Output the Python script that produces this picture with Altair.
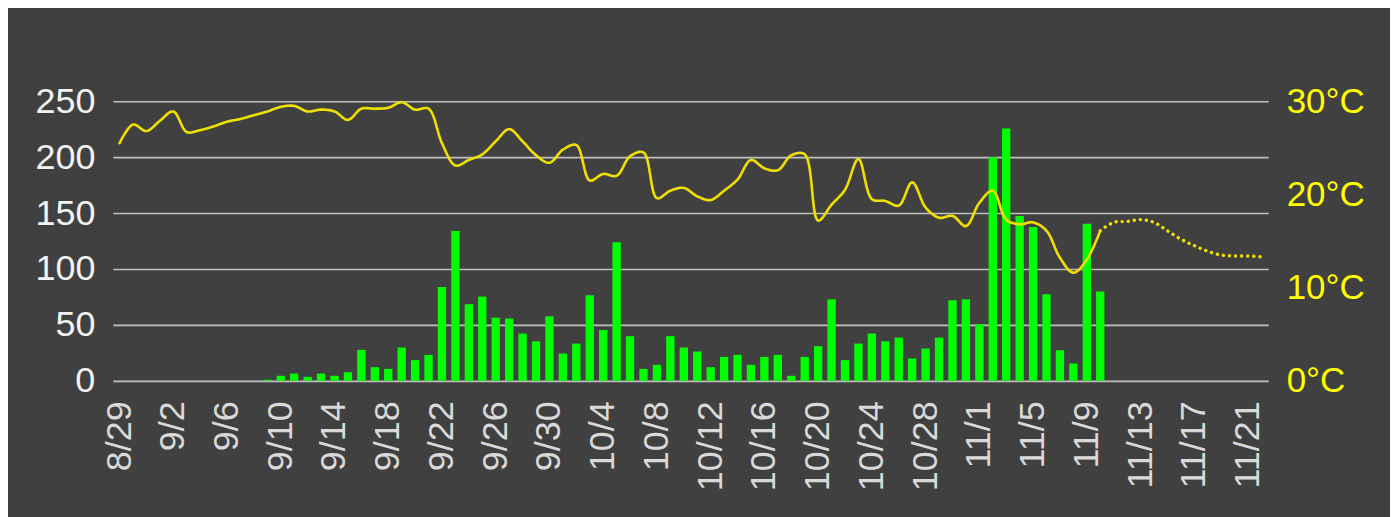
import altair as alt
import pandas as pd

# categories: every day from 8/29 to 11/22
dates = [f"{d.month}/{d.day}" for d in pd.date_range("2023-08-29", "2023-11-22")]
tick_labels = dates[::4]

# daily bars (9/9 .. 11/10)
rain_start = dates.index("9/9")
rain = [1, 4.5, 6.5, 3.6, 6.5, 4.5, 7.7, 27.7, 12.2, 10.7, 29.8, 18.5, 23.2, 84, 134,
        68.5, 75.3, 56.5, 55.7, 42.3, 35.4, 57.7,
        24.4, 33.3, 76.5, 45.5, 124, 39.9, 10.7, 14.3, 39.9, 29.8, 26.2, 12.2, 21.4, 23.2,
        14.3, 21.4, 23.2, 4.5, 21.4, 31, 72.9, 18.5, 33.3, 42.3, 35.4, 38.7, 20, 28.9,
        38.7, 72, 72.9,
        50.6, 200, 225.6, 147.3, 137.5, 77.4, 27.4, 15.5, 140.5, 79.8]

# observed temperature (8/29 .. 11/10)
temp_obs = [25.5, 27.5, 26.8, 27.9, 28.9, 26.7, 26.9, 27.3, 27.8, 28.1,
            28.5, 28.9, 29.4, 29.5, 28.9, 29.1, 28.9, 28.0, 29.2, 29.2,
            29.3, 29.9, 29.1, 29.2, 25.5, 23.1, 23.7, 24.3, 25.7, 27.0,
            25.7, 24.2, 23.4, 24.8, 25.3, 21.5, 22.2, 22.0, 24.1, 24.5,
            19.6, 20.4, 20.7, 19.8, 19.4, 20.4, 21.6, 23.7, 22.8, 22.6,
            24.2, 24.3, 17.2, 18.9, 20.5, 23.8, 19.5, 19.3, 18.8, 21.3,
            18.6, 17.5, 17.7, 16.6, 19.1, 20.4, 17.3, 16.8, 17.0, 16.1,
            13.2, 11.6, 13.0, 16.1]
# forecast temperature (11/10 .. 11/22)
fc_start = dates.index("11/10")
temp_fc = [16.1, 17.0, 17.1, 17.3, 17.0, 16.1, 15.2, 14.5, 13.9, 13.5, 13.4, 13.4, 13.3]

rain_df = pd.DataFrame({"date": dates[rain_start:rain_start + len(rain)], "rain": rain})
temp_df = pd.concat([
    pd.DataFrame({"date": dates[:len(temp_obs)], "temp": temp_obs, "kind": "obs"}),
    pd.DataFrame({"date": dates[fc_start:fc_start + len(temp_fc)], "temp": temp_fc, "kind": "fc"}),
])

FONT = "Liberation Sans"

x_enc = alt.X(
    "date:N", sort=None, title=None,
    scale=alt.Scale(domain=dates, paddingInner=0.38, paddingOuter=0.19),
    axis=alt.Axis(values=tick_labels, labelAngle=-90, labelFontSize=36, labelFont=FONT,
                  labelColor="#d9d9d9", labelPadding=20, ticks=False, domain=False,
                  grid=False, labelOverlap=False),
)

bars = alt.Chart(rain_df).mark_bar(color="#00ff00").encode(
    x=x_enc,
    y=alt.Y("rain:Q", title=None,
            scale=alt.Scale(domain=[0, 250], nice=False),
            axis=alt.Axis(values=[0, 50, 100, 150, 200, 250], orient="left",
                          labelFontSize=36, labelFont=FONT, labelColor="#f2f2f2",
                          labelPadding=18, ticks=False, domain=False, grid=True,
                          gridColor="#bfbfbf", gridWidth=1.6, gridOpacity=1)),
)

line = alt.Chart(temp_df).mark_line(
    interpolate="catmull-rom", color="#f0e000", strokeCap="round"
).encode(
    x=alt.X("date:N", sort=None),
    y=alt.Y("temp:Q", title=None,
            scale=alt.Scale(domain=[0, 30], nice=False),
            axis=alt.Axis(values=[0, 10, 20, 30], orient="right",
                          labelExpr="datum.value + '°C'",
                          labelFontSize=35, labelFont=FONT, labelColor="#ffff00",
                          labelPadding=18, ticks=False, domain=False, grid=False)),
    detail="kind:N",
    strokeDash=alt.StrokeDash("kind:N", legend=None,
                              scale=alt.Scale(domain=["obs", "fc"], range=[[1, 0], [0.1, 6]])),
    strokeWidth=alt.StrokeWidth("kind:N", legend=None,
                                scale=alt.Scale(domain=["obs", "fc"], range=[2.6, 3.4])),
)

chart = alt.layer(bars, line).resolve_scale(y="independent").properties(
    width=1157, height=280,
    autosize=alt.AutoSizeParams(type="none"),
    padding={"left": 105, "top": 93, "right": 122, "bottom": 139},
    background="#404040",
).configure_view(stroke=None)

chart.save("out.html", embed_options={"renderer": "svg", "actions": False})
